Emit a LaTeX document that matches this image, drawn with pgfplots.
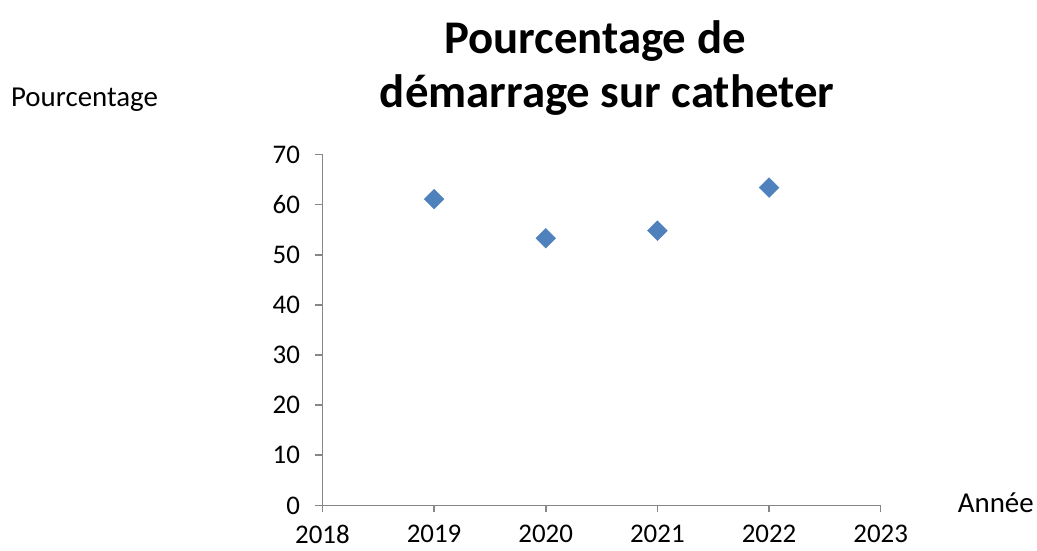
\documentclass[border=0pt]{standalone}
\usepackage{pgfplots}
\pgfplotsset{compat=1.18}
\usepackage{fontspec}
\setmainfont{Carlito}
\definecolor{axgray}{HTML}{868686}
\definecolor{ptblue}{HTML}{4F81BD}
\begin{document}
\begin{tikzpicture}[x=1bp,y=1bp]
\begin{axis}[
  scale only axis,
  width=558.5bp, height=351bp,
  xmin=2018, xmax=2023, ymin=0, ymax=70,
  xtick={2018,2019,...,2023}, ytick={0,10,...,70},
  axis x line*=bottom, axis y line*=left,
  axis line style={axgray, line width=1.6pt, -},
  tick style={axgray, line width=1.6pt},
  tick align=outside,
  major tick length=7bp,
  x tick label style={/pgf/number format/1000 sep={}, font=\fontsize{27}{30}\selectfont, yshift=-9bp},
  y tick label style={font=\fontsize{27}{30}\selectfont, xshift=-12bp},
  /pgf/number format/assume math mode=true,
  clip=false,
]
\addplot[only marks, mark=square*, mark size=7bp, mark options={fill=ptblue, draw=ptblue, rotate=45}]
  coordinates {(2019,61.1) (2020,53.3) (2021,54.8) (2022,63.4)};
\path (axis cs:2015.113,-9.07) rectangle (axis cs:2024.397,100.82);
\node[anchor=base, font=\fontsize{47}{52}\bfseries\selectfont] at (axis cs:2020.44,90.2) {Pourcentage de};
\node[anchor=base, font=\fontsize{47}{52}\bfseries\selectfont] at (axis cs:2020.55,79.3) {démarrage sur catheter};
\node[anchor=base, font=\fontsize{29}{32}\selectfont] at (axis cs:2015.87,79.6) {Pourcentage};
\node[anchor=base, font=\fontsize{29}{32}\selectfont] at (axis cs:2024.03,-1.5) {Année};
\end{axis}
\end{tikzpicture}
\end{document}
